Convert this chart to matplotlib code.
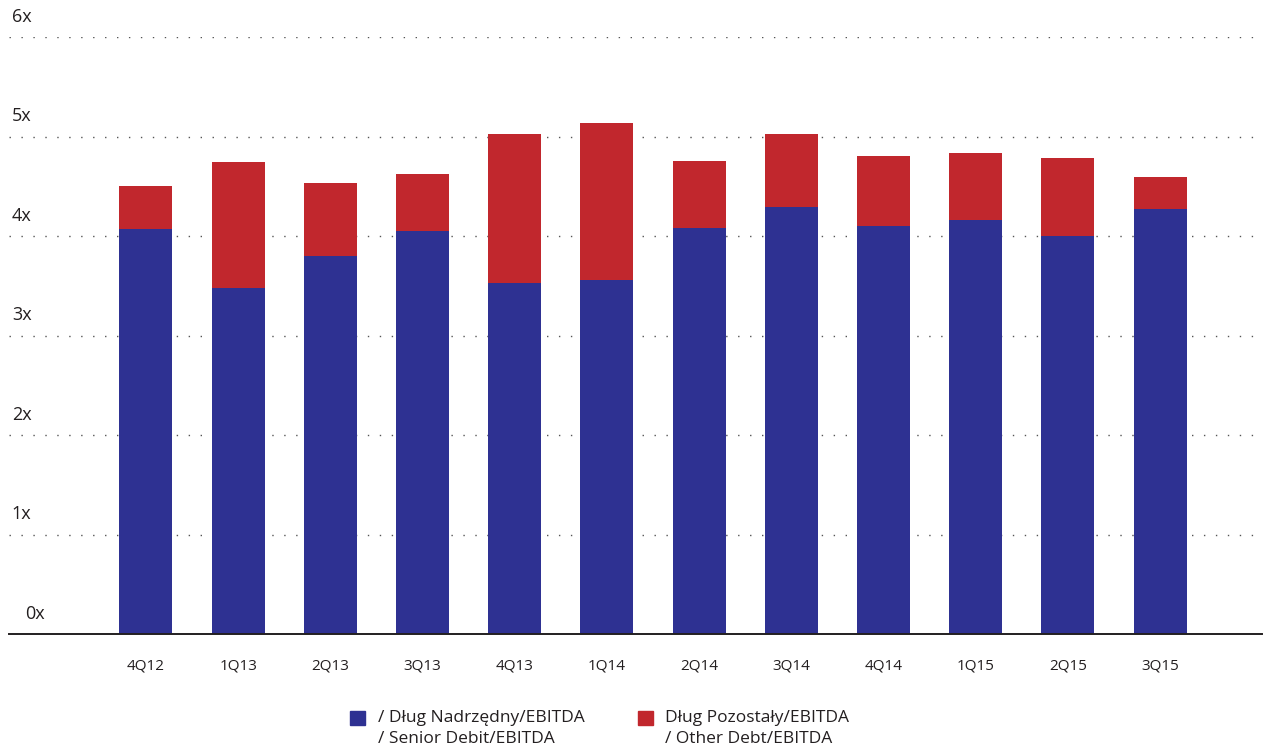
import matplotlib
matplotlib.use("Agg")
import matplotlib.pyplot as plt
from matplotlib.patches import Rectangle
from matplotlib import transforms

# Quarterly leverage ratios
quarters = ['4Q12', '1Q13', '2Q13', '3Q13', '4Q13', '1Q14',
            '2Q14', '3Q14', '4Q14', '1Q15', '2Q15', '3Q15']
senior_debt = [4.07, 3.48, 3.80, 4.05, 3.53, 3.56, 4.08, 4.29, 4.10, 4.16, 4.00, 4.27]
total_debt = [4.50, 4.74, 4.53, 4.62, 5.03, 5.14, 4.75, 5.03, 4.80, 4.83, 4.78, 4.59]
other_debt = [t - s for t, s in zip(total_debt, senior_debt)]

y_ticks = [0, 1, 2, 3, 4, 5, 6]
y_tick_labels = ['0x', '1x', '2x', '3x', '4x', '5x', '6x']
legend_labels = ['/ Dług Nadrzędny/EBITDA\n/ Senior Debit/EBITDA',
                 'Dług Pozostały/EBITDA\n/ Other Debt/EBITDA']

blue = '#2E3192'
red = '#C1272D'
text_color = '#231F20'

plt.rcParams['font.family'] = ['Open Sans', 'DejaVu Sans']

fig = plt.figure(figsize=(12.68, 7.51), dpi=100)
ax = fig.add_axes([9 / 1268, 117 / 751, 1253 / 1268, 597 / 751])

x = list(range(len(quarters)))
ax.bar(x, senior_debt, width=0.575, color=blue, zorder=2)
ax.bar(x, other_debt, bottom=senior_debt, width=0.575, color=red, zorder=2)

ax.set_xlim(-1.486, 12.106)
ax.set_ylim(0, 6)

# dotted horizontal guides
for v in y_ticks[1:]:
    ax.axhline(v, color='#555555', lw=1.0, dashes=(1, 7.6),
               dash_capstyle='butt', zorder=0)

for s in ['top', 'right', 'left']:
    ax.spines[s].set_visible(False)
ax.spines['bottom'].set_color('#231F20')
ax.spines['bottom'].set_linewidth(1.4)
ax.spines['bottom'].set_zorder(3)

ax.set_yticks([])
ax.set_xticks(x)
ax.set_xticklabels(quarters, fontsize=11, color=text_color)
ax.tick_params(axis='x', length=0, pad=18)

# y labels sit above their guide lines, inside the plot area
trans = transforms.blended_transform_factory(ax.transAxes, ax.transData)
for v, lab in zip(y_ticks, y_tick_labels):
    dx = 11.5 if v == 0 else 2
    ax.annotate(lab, xy=(0, v), xycoords=trans, xytext=(dx, 8),
                textcoords='offset points', ha='left', va='bottom',
                fontsize=13, color=text_color)

# legend drawn by hand so the swatch lines up with the first text row
for (sx, tx), col, lab in zip([(350, 378), (638, 665)], [blue, red], legend_labels):
    fig.patches.append(Rectangle((sx / 1268, 1 - 725 / 751), 15 / 1268, 14 / 751,
                                 transform=fig.transFigure, color=col))
    fig.text(tx / 1268, 1 - 710 / 751, lab, ha='left', va='top',
             fontsize=12.5, color=text_color, linespacing=1.38)

fig.savefig('out.png', dpi=100)
